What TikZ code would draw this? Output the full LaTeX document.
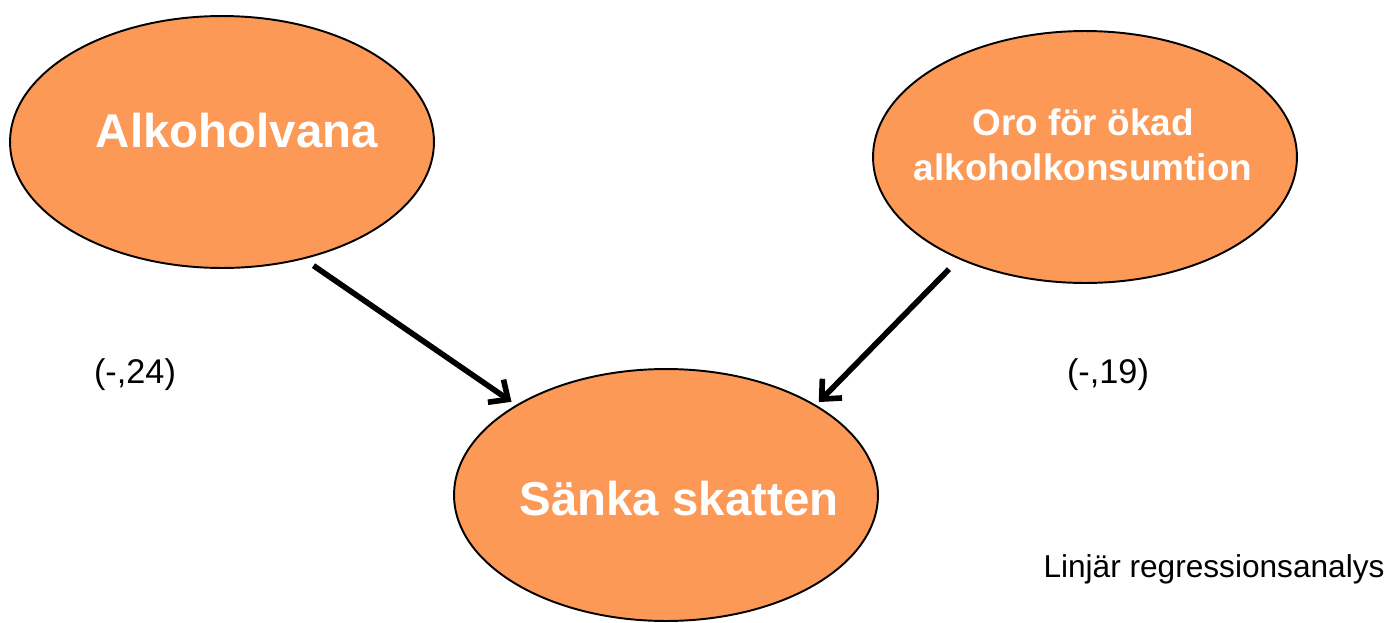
\documentclass[tikz,border=0pt]{standalone}
\usepackage{fontspec}
\setmainfont{Liberation Sans}
\usetikzlibrary{arrows.meta,shapes.geometric}
\definecolor{bubblefill}{RGB}{252,153,87}

\begin{document}
\begin{tikzpicture}[x=0.02cm,y=-0.02cm,
    bubble/.style={ellipse,draw,line width=1.1pt,fill=bubblefill,minimum width=8.48cm,minimum height=5.04cm,inner sep=0pt},
    bigtext/.style={text=white,font=\fontsize{27}{33}\selectfont\bfseries,anchor=base},
    midtext/.style={text=white,font=\fontsize{21}{25.6}\selectfont\bfseries,align=center,anchor=base},
    smalltext/.style={font=\fontsize{19.5}{23}\selectfont,anchor=base},
    >={Straight Barb[length=3mm,width=5.5mm]}]
      \useasboundingbox (0,0) rectangle (1389,622);
      \node (alk) at (222,142) [bubble] {};
      \node (oro) at (1085,157) [bubble] {};
      \node (sank) at (666,495) [bubble] {};
      \node (alktext) at (237,147) [bigtext] {Alkoholvana};
      \node (orotext) at (1083,180) [midtext] {Oro för ökad\\alkoholkonsumtion};
      \node (sanktext) at (679,515) [bigtext] {Sänka skatten};
      \draw [->,line width=3.2pt,shorten <=0.23cm,shorten >=0.11cm](alk.-55)--(sank.149);
      \draw [->,line width=3.2pt,shorten <=0.28cm,shorten >=0.08cm](oro.-141)--(sank.31);
      \node (coefalk) at (135,383) [smalltext] {(-,24)};
      \node (coeforo) at (1108,383) [smalltext] {(-,19)};
      \node (method) at (1214,577) [font=\fontsize{18}{22}\selectfont,anchor=base] {Linjär regressionsanalys};
\end{tikzpicture}
\end{document}
